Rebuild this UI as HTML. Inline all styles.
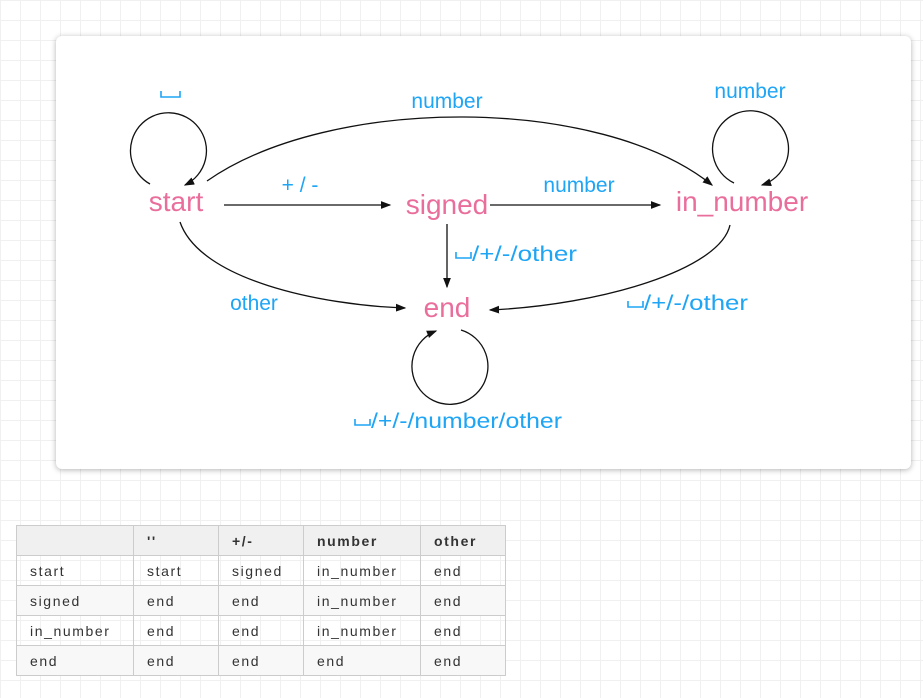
<!DOCTYPE html>
<html><head><meta charset="utf-8"><style>
body{margin:0;width:923px;height:698px;overflow:hidden;background:#fff;
background-image:linear-gradient(#f0f0f0 1px,transparent 1px),linear-gradient(90deg,#f0f0f0 1px,transparent 1px);background-size:20px 20px;font-family:"Liberation Sans",sans-serif;position:relative}
.card{position:absolute;left:56px;top:36px;width:855px;height:433px;background:#fff;border-radius:6px;box-shadow:0 1px 6px rgba(0,0,0,.3)}
svg{position:absolute;left:0;top:0}
table{position:absolute;left:16px;top:525px;border-collapse:collapse;font-size:14px;color:#333;letter-spacing:1.6px}
td,th{border:1px solid #ccc;height:30px;padding:0 0 0 13px;text-align:left;box-sizing:border-box}
th{background:#f0f0f0;font-weight:bold}
tr:nth-child(odd) td{background:#f8f8f8}
</style></head><body>
<div class="card"></div>
<svg width="923" height="698">
<defs><marker id="a" markerWidth="8" markerHeight="8" refX="7" refY="4" orient="auto"><path d="M0,1 L8,4 L0,7z" fill="#111"/></marker></defs>
<g fill="none" stroke="#111" stroke-width="1.3">
<path d="M150,184 A38,38 0 1 1 185,185" marker-end="url(#a)"/>
<path d="M734,183 A38,38 0 1 1 762,185" marker-end="url(#a)"/>
<path d="M461,330 A38,38 0 1 1 436,331" marker-end="url(#a)"/>
<path d="M224,205 L390,205" marker-end="url(#a)"/>
<path d="M490,205 L660,205" marker-end="url(#a)"/>
<path d="M447,224 L447,287" marker-end="url(#a)"/>
<path d="M207,181 C330,95 600,95 712,185" marker-end="url(#a)"/>
<path d="M180,222 C200,280 320,305 405,308" marker-end="url(#a)"/>
<path d="M730,225 C720,270 600,305 490,310" marker-end="url(#a)"/>
</g>
<g fill="none" stroke="#1ea5f5" stroke-width="1.6">
<path d="M161,91 V97 H180 V91"/>
<path d="M456,252 V258 H471 V252"/>
<path d="M628,301 V307 H643 V301"/>
<path d="M355,419 V425 H370 V419"/>
</g>
<g fill="#ea6e9c" font-size="28" text-anchor="middle">
<text x="176" y="211">start</text><text x="447" y="214">signed</text><text x="742" y="211">in_number</text><text x="447" y="317">end</text>
</g>
<g fill="#1ea5f5" font-size="21" text-anchor="middle">
<text x="447" y="108">number</text><text x="750" y="98">number</text>
<text x="300" y="192">+ / -</text><text x="579" y="192">number</text>
<text x="254" y="310">other</text>
</g>
<g fill="#1ea5f5" font-size="21">
<text x="472" y="261" textLength="105" lengthAdjust="spacingAndGlyphs">/+/-/other</text>
<text x="644" y="310" textLength="104" lengthAdjust="spacingAndGlyphs">/+/-/other</text>
<text x="371" y="428" textLength="191" lengthAdjust="spacingAndGlyphs">/+/-/number/other</text>
</g>
</svg>
<table>
<tr><th style="width:117px"></th><th style="width:85px">''</th><th style="width:85px">+/-</th><th style="width:117px">number</th><th style="width:85px">other</th></tr>
<tr><td>start</td><td>start</td><td>signed</td><td>in_number</td><td>end</td></tr>
<tr><td>signed</td><td>end</td><td>end</td><td>in_number</td><td>end</td></tr>
<tr><td>in_number</td><td>end</td><td>end</td><td>in_number</td><td>end</td></tr>
<tr><td>end</td><td>end</td><td>end</td><td>end</td><td>end</td></tr>
</table>
</body></html>
